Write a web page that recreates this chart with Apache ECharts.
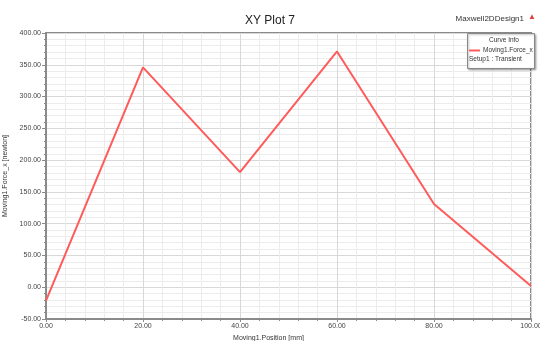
<!DOCTYPE html>
<html lang="en">
<head>
<meta charset="UTF-8">
<title>XY Plot 7</title>
<script src="https://cdn.jsdelivr.net/npm/echarts@6/dist/echarts.min.js"></script>
<style>
  html, body { margin: 0; padding: 0; background: #fff; }
  #chart { width: 540px; height: 341px; }
</style>
</head>
<body>
<div id="chart"></div>
<script type="text/javascript">
  // values
  var positions = [0, 20, 40, 60, 80, 100];
  var forceX = [-21, 346, 181, 371, 131, 2];
  var seriesName = 'Moving1.Force_x';

  var chart = echarts.init(document.getElementById('chart'));
  var fnt = '"Liberation Sans Narrow", "Liberation Sans", sans-serif';
  var axisGray = '#8a8a8a';

  chart.setOption({
    animation: false,
    title: {
      text: 'XY Plot 7',
      left: 'center',
      top: 10,
      textStyle: { fontSize: 12, fontWeight: 'normal', color: '#222', fontFamily: fnt }
    },
    grid: {
      left: 46, right: 9, top: 33, bottom: 22,
      outerBoundsMode: 'none',
      containLabel: false,
      show: true, borderColor: axisGray, borderWidth: 2
    },
    legend: {
      data: [seriesName],
      left: 469, top: 47,
      z: 20,
      padding: 0,
      itemWidth: 11, itemHeight: 2, itemGap: 2,
      icon: 'rect',
      textStyle: { fontSize: 6.5, color: '#333', fontFamily: fnt, padding: [0, 0, 0, -2] }
    },
    graphic: [
      { type: 'text', right: 16, top: 15, style: { text: 'Maxwell2DDesign1', fill: '#333', font: '8px ' + fnt } },
      { type: 'text', right: 4, top: 13, style: { text: '▲', fill: '#e04040', font: '8px sans-serif' } },
      { type: 'rect', left: 467, top: 33, shape: { width: 67, height: 35 }, style: { fill: '#fff', stroke: '#888', lineWidth: 1, shadowBlur: 2, shadowColor: 'rgba(0,0,0,0.3)', shadowOffsetX: 1, shadowOffsetY: 1 }, z: 5 },
      { type: 'text', left: 489, top: 37, style: { text: 'Curve Info', fill: '#333', font: '6.5px ' + fnt }, z: 6 },
      { type: 'text', left: 469, top: 56, style: { text: 'Setup1 : Transient', fill: '#333', font: '6.5px ' + fnt }, z: 6 }
    ],
    xAxis: {
      type: 'value',
      min: 0, max: 100, interval: 20,
      name: 'Moving1.Position [mm]',
      nameLocation: 'middle', nameGap: 12,
      nameTextStyle: { fontSize: 7, color: '#333', fontFamily: fnt, padding: [0, 0, 0, -40] },
      axisLine: { onZero: false, lineStyle: { color: axisGray, width: 2 } },
      axisTick: { show: true, length: 3, lineStyle: { color: axisGray } },
      minorTick: { show: true, splitNumber: 5, length: 2, lineStyle: { color: axisGray } },
      axisLabel: {
        fontSize: 7, color: '#444', fontFamily: fnt, margin: 4,
        formatter: function (v) { return v.toFixed(2); }
      },
      splitLine: { show: true, lineStyle: { color: '#d8d8d8' } },
      minorSplitLine: { show: true, lineStyle: { color: '#ececec' } }
    },
    yAxis: {
      type: 'value',
      min: -50, max: 400, interval: 50,
      name: 'Moving1.Force_x [newton]',
      nameLocation: 'middle', nameGap: 34,
      nameTextStyle: { fontSize: 7, color: '#333', fontFamily: fnt },
      axisLine: { show: true, onZero: false, lineStyle: { color: axisGray, width: 2 } },
      axisTick: { show: true, length: 4, lineStyle: { color: axisGray } },
      minorTick: { show: true, splitNumber: 5, length: 2, lineStyle: { color: axisGray } },
      axisLabel: {
        fontSize: 7, color: '#444', fontFamily: fnt, margin: 5,
        formatter: function (v) { return v.toFixed(2); }
      },
      splitLine: { show: true, lineStyle: { color: '#d8d8d8' } },
      minorSplitLine: { show: true, lineStyle: { color: '#ececec' } }
    },
    series: [{
      name: seriesName,
      type: 'line',
      data: positions.map(function (p, i) { return [p, forceX[i]]; }),
      showSymbol: false,
      lineStyle: { color: '#ff5b5b', width: 2 },
      itemStyle: { color: '#ff5b5b' }
    }]
  });
</script>
</body>
</html>
